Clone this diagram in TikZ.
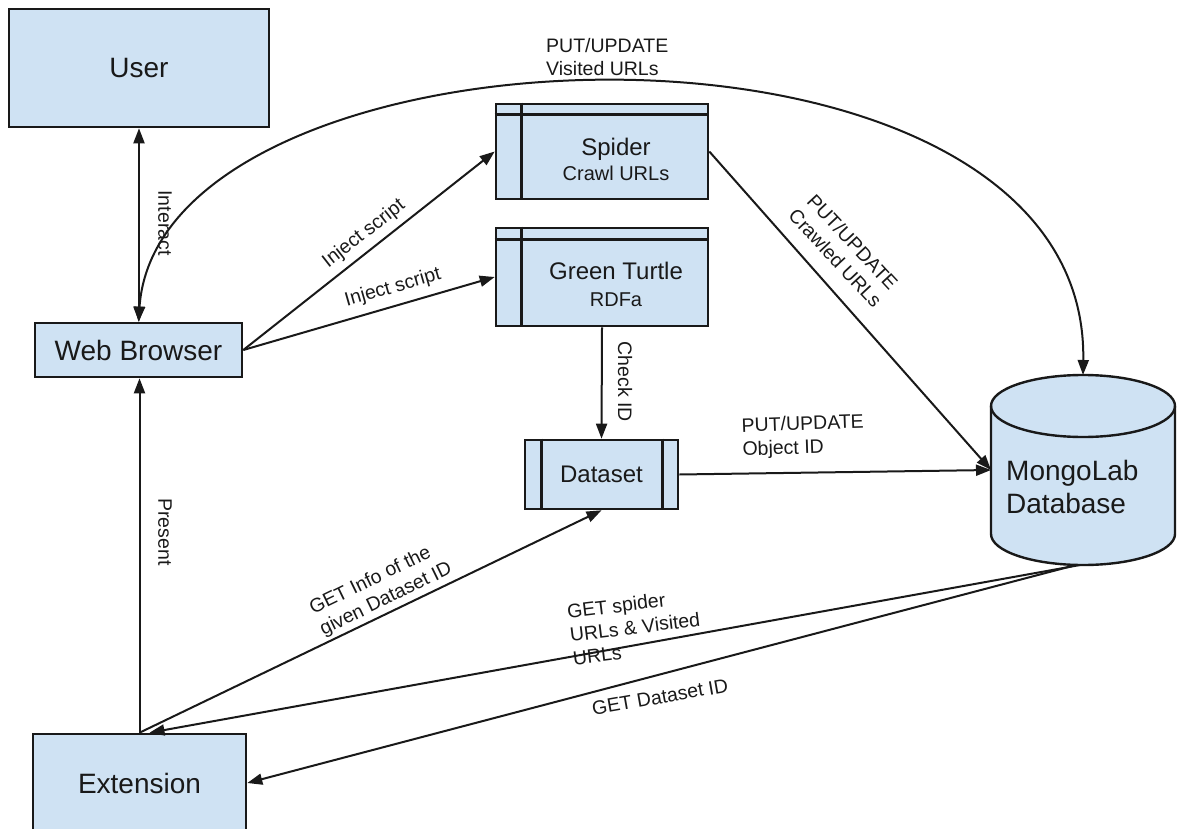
\documentclass[tikz,border=0pt]{standalone}
\usepackage{fontspec}
\setmainfont{Liberation Sans}
\usetikzlibrary{arrows.meta}
\definecolor{boxfill}{RGB}{207,226,243}
\definecolor{ink}{RGB}{25,25,25}
\tikzset{
  boxframe/.style={draw=ink, line width=2.6pt, fill=boxfill, inner sep=0pt},
  boxline/.style={draw=ink, line width=2.6pt},
  bigtxt/.style={font=\fontsize{28}{33}\selectfont, text=ink},
  midtxt/.style={font=\fontsize{24}{28}\selectfont, text=ink},
  lab/.style={font=\fontsize{19.5}{23.5}\selectfont, inner sep=0pt, text=ink},
  conn/.style={draw=ink, line width=2pt, ->},
}
\begin{document}
\begin{tikzpicture}[x=1pt,y=-1pt,>={Triangle[length=15pt,width=11pt]}]
\useasboundingbox (0,0) rectangle (1177,829);

% plain boxes
\node[boxframe, bigtxt, minimum width=260, minimum height=118] (user) at (139,68) {User};
\node[boxframe, bigtxt, minimum width=207, minimum height=54] (wb) at (138.5,350) {Web Browser};
\node[boxframe, bigtxt, minimum width=213, minimum height=98] (ext) at (139.5,783) {Extension};

% Spider
\node[boxframe, minimum width=212, minimum height=95] (spider) at (602,151.5) {};
\draw[boxline] ([xshift=27pt]spider.north west) -- ([xshift=27pt]spider.south west);
\draw[boxline] ([yshift=-12pt]spider.north west) -- ([yshift=-12pt]spider.north east);
\node[align=center, text=ink, inner sep=0pt] (spidertxt) at (616,163)
  {{\fontsize{24}{24}\selectfont\strut Spider}\\{\fontsize{20}{24}\selectfont\strut Crawl URLs}};

% Green Turtle
\node[boxframe, minimum width=212, minimum height=98] (gt) at (602,277) {};
\draw[boxline] ([xshift=27pt]gt.north west) -- ([xshift=27pt]gt.south west);
\draw[boxline] ([yshift=-13pt]gt.north west) -- ([yshift=-13pt]gt.north east);
\node[align=center, text=ink, inner sep=0pt] (gttxt) at (616,288)
  {{\fontsize{24}{24}\selectfont\strut Green Turtle}\\[2pt]{\fontsize{20}{24}\selectfont\strut RDFa}};

% Dataset
\node[boxframe, midtxt, minimum width=153, minimum height=69] (ds) at (601.5,474.5) {Dataset};
\draw[boxline] ([xshift=18pt]ds.north west) -- ([xshift=18pt]ds.south west);
\draw[boxline] ([xshift=-17pt]ds.north east) -- ([xshift=-17pt]ds.south east);

% Database cylinder
\fill[boxfill] (991,406) -- (991,534) arc[start angle=180, end angle=0, x radius=92, y radius=31]
  -- (1175,406) arc[start angle=0, end angle=-180, x radius=92, y radius=31] -- cycle;
\draw[boxline, line width=2.4pt] (991,406) -- (991,534) arc[start angle=180, end angle=0, x radius=92, y radius=31]
  -- (1175,406);
\draw[boxline, line width=2.4pt] (1083,406) ellipse[x radius=92, y radius=31];
\coordinate (dbtop) at (1083,375);
\coordinate (dbbot) at (1080,565);
\coordinate (dbleft) at (991,470);
\node[bigtxt, align=left, anchor=west, inner sep=0pt] (db) at (1006,487) {MongoLab\\Database};

% connectors
\draw[conn, <->] (user.south) -- (user.south |- wb.north);
\draw[conn] (ext.north) -- (ext.north |- wb.south);
\draw[conn] (wb.east) -- (spider.west);
\draw[conn] (wb.east) -- (gt.west);
\draw[conn, <->] (wb.north) .. controls (160,10) and (1090,-20) .. (dbtop);
\draw[conn] (spider.east) -- (dbleft);
\draw[conn] (gt.south) -- (ds.north);
\draw[conn] (ds.east) -- (dbleft);
\draw[conn] (ext.north) -- (ds.south);
\draw[conn] (dbbot) -- ([xshift=10pt]ext.north);
\draw[conn] ([xshift=-4pt]dbbot) -- (ext.east);

% labels
\node[lab, rotate=-90] (lint) at (165,223) {Interact};
\node[lab, rotate=-90] (lpres) at (165,532) {Present};
\node[lab, rotate=38] (linj1) at (364,234) {Inject script};
\node[lab, rotate=16] (linj2) at (393,288) {Inject script};
\node[lab, align=left, anchor=west] (lvis) at (546,57) {PUT/UPDATE\\Visited URLs};
\node[lab, align=center, rotate=-47] (lcrawl) at (844,250) {PUT/UPDATE\\Crawled URLs};
\node[lab, rotate=-90] (lchk) at (625,382) {Check ID};
\node[lab, align=left, anchor=west, rotate=2] (lobj) at (742,439) {PUT/UPDATE\\Object ID};
\node[lab, align=left, rotate=26] (linfo) at (381,589) {GET Info of the\\given Dataset ID};
\node[lab, align=left, rotate=7] (lspid) at (635,627) {GET spider\\URLs \& Visited\\URLs};
\node[lab, rotate=10] (lgetds) at (660,697) {GET Dataset ID};
\end{tikzpicture}
\end{document}
